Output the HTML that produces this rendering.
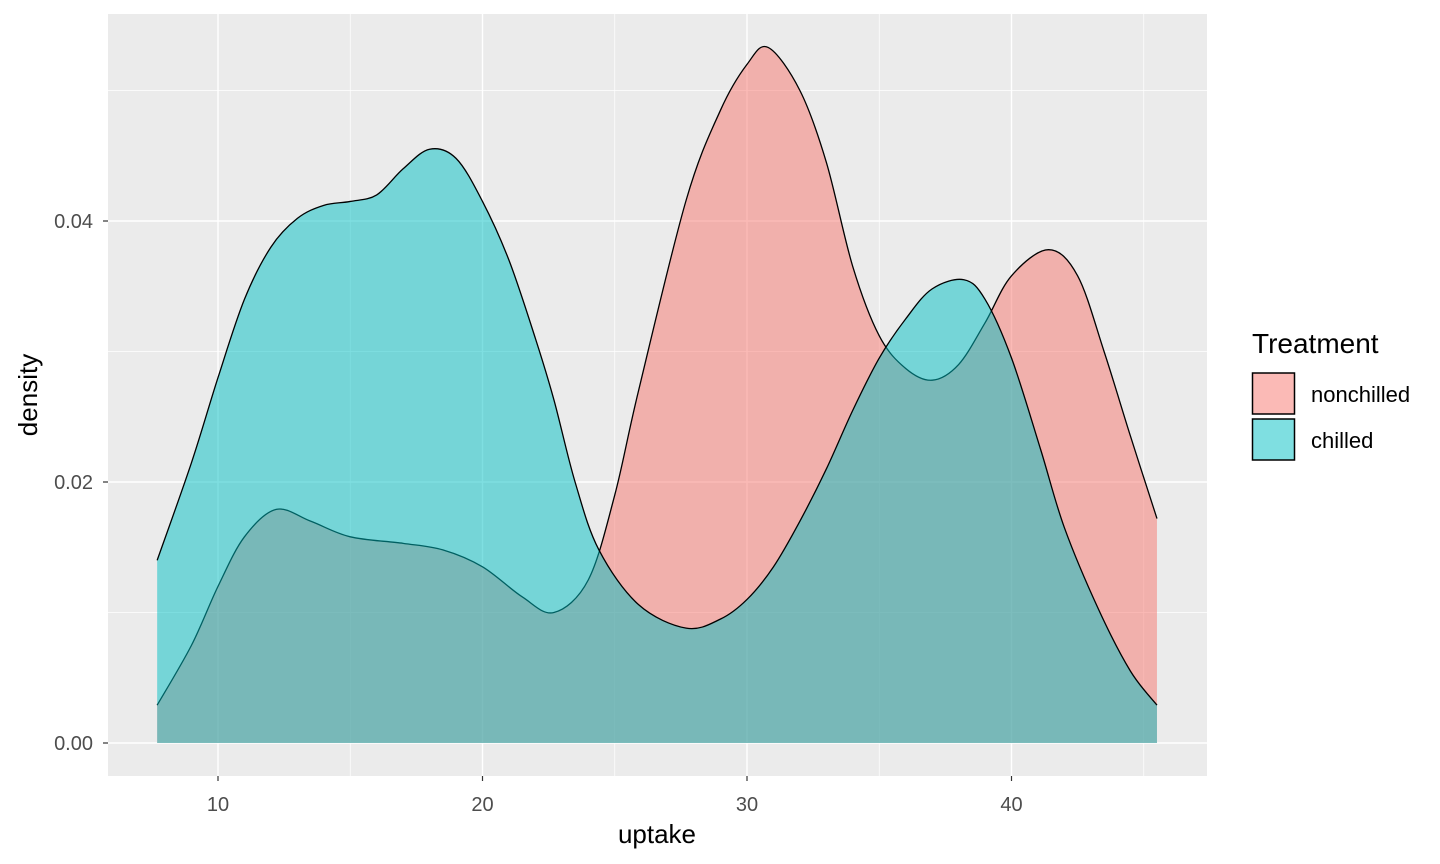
<!DOCTYPE html>
<html><head><meta charset="utf-8"><style>
body{margin:0;background:#fff;}
svg{display:block;font-family:"Liberation Sans",sans-serif;}
</style></head><body>
<svg id="chart" width="1440" height="864"></svg>
<script>
const seriesNames=["nonchilled","chilled"];
const ncX=[7.7,9,10,11,12.2,13.5,15,17,18.5,20,21.5,22.7,24,25,25.9,27.7,29,30,30.8,32,33,34,35,36,37,38,39,40,41.4,42.5,43.5,44.5,45.5];
const ncY=[0.0029,0.0075,0.0120,0.0158,0.0179,0.0170,0.0158,0.0153,0.0148,0.0135,0.0112,0.0100,0.0125,0.0190,0.0270,0.0416,0.0485,0.0520,0.0533,0.0500,0.0445,0.0365,0.0312,0.0287,0.0278,0.0290,0.0322,0.0358,0.0378,0.0358,0.0300,0.0235,0.0172];
const chX=[7.7,9,10,11,12,13,14,15,16,17,18,19,20,21,22,22.7,23.5,24.4,25.9,27.7,29,30,31,32,33,34,35,36,37,38.2,39,40,41.1,42,43.3,44.5,45.5];
const chY=[0.0140,0.0215,0.0280,0.0340,0.0380,0.0402,0.0412,0.0415,0.0420,0.0440,0.0455,0.0448,0.0415,0.0370,0.0310,0.0263,0.0200,0.0148,0.0106,0.0088,0.0095,0.0110,0.0135,0.0170,0.0210,0.0255,0.0295,0.0325,0.0348,0.0355,0.0340,0.0295,0.0225,0.0165,0.0102,0.0055,0.0029];
const xTicks=[10,20,30,40];
const yTicks=[0,0.02,0.04];
const yTickLabels=["0.00","0.02","0.04"];
const NS="http://www.w3.org/2000/svg";
const svg=document.getElementById('chart');
const P={l:108,r:1207,t:14,b:776};
const sx=v=>218+(v-10)*26.45;
const sy=v=>743-v*13050;
function mk(t,a,p){const e=document.createElementNS(NS,t);for(const k in a)e.setAttribute(k,a[k]);(p||svg).appendChild(e);return e;}
const bg=mk('rect',{x:P.l,y:P.t,width:P.r-P.l,height:P.b-P.t,fill:'#EBEBEB'});


[5,15,25,35,45].forEach(v=>{const x=sx(v);if(x>P.l&&x<P.r){const l=mk('line',{x1:x,x2:x,y1:P.t,y2:P.b,stroke:'#fff','stroke-width':0.7});}});
[0.01,0.03,0.05].forEach(v=>{const y=sy(v);const l=mk('line',{x1:P.l,x2:P.r,y1:y,y2:y,stroke:'#fff','stroke-width':0.7});});
xTicks.forEach(v=>{const x=sx(v);const l=mk('line',{x1:x,x2:x,y1:P.t,y2:P.b,stroke:'#fff','stroke-width':1.4});
const t=mk('line',{x1:x,x2:x,y1:P.b,y2:P.b+5,stroke:'#333','stroke-width':1.2});
const tx=mk('text',{x:x,y:P.b+35,'text-anchor':'middle','font-size':20,fill:'#4D4D4D'});tx.textContent=v;});
yTicks.forEach((v,i)=>{const y=sy(v);const l=mk('line',{x1:P.l,x2:P.r,y1:y,y2:y,stroke:'#fff','stroke-width':1.4});
const t=mk('line',{x1:P.l-5,x2:P.l,y1:y,y2:y,stroke:'#333','stroke-width':1.2});
const tx=mk('text',{x:93,y:y+7,'text-anchor':'end','font-size':20,fill:'#4D4D4D'});tx.textContent=yTickLabels[i];});
function curve(xs,ys){const p=xs.map((x,i)=>[sx(x),sy(ys[i])]);let d='M'+p[0][0]+','+p[0][1];
for(let i=0;i<p.length-1;i++){const p0=p[i-1]||p[i],p1=p[i],p2=p[i+1],p3=p[i+2]||p2;
d+=' C'+(p1[0]+(p2[0]-p0[0])/6)+','+(p1[1]+(p2[1]-p0[1])/6)+' '+(p2[0]-(p3[0]-p1[0])/6)+','+(p2[1]-(p3[1]-p1[1])/6)+' '+p2[0]+','+p2[1];}return d;}
function series(xs,ys,col,name){const c=curve(xs,ys);
const a=mk('path',{d:c+' L'+sx(xs[xs.length-1])+','+sy(0)+' L'+sx(xs[0])+','+sy(0)+' Z',fill:col,'fill-opacity':0.5});

const l=mk('path',{d:c,fill:'none',stroke:'#000','stroke-width':1.3});
}
series(ncX,ncY,'#F8766D','nonchilled');
series(chX,chY,'#00BFC4','chilled');
const xl=mk('text',{x:657,y:843,'text-anchor':'middle','font-size':26,fill:'#000'});xl.textContent='uptake';

const yl=mk('text',{x:37,y:395,'text-anchor':'middle','font-size':26,fill:'#000',transform:'rotate(-90 37 395)'});yl.textContent='density';

const lt=mk('text',{x:1252,y:353,'font-size':28,fill:'#000'});lt.textContent='Treatment';

[['nonchilled','#F8766D',373],['chilled','#00BFC4',419]].forEach(([n,c,y])=>{
const k=mk('rect',{x:1252.5,y:y,width:42,height:41,fill:c,'fill-opacity':0.5,stroke:'#000','stroke-width':1.5});

const t=mk('text',{x:1311,y:y+29,'font-size':22,fill:'#000'});t.textContent=n;
});
</script>
</body></html>
